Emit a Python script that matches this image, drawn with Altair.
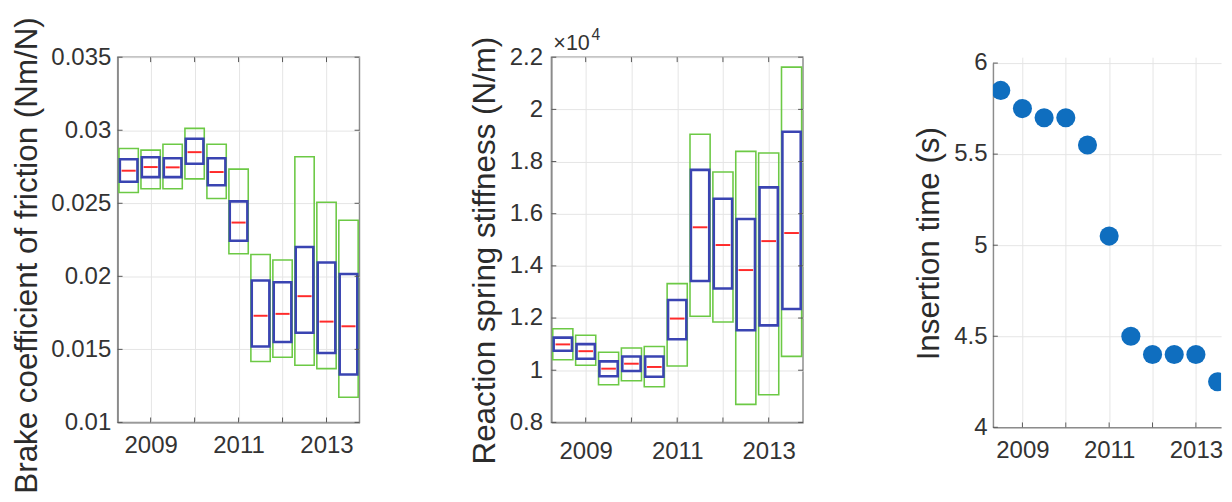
import altair as alt
import pandas as pd

# ---------------- data ----------------
years = [2008.5, 2009.0, 2009.5, 2010.0, 2010.5, 2011.0, 2011.5, 2012.0, 2012.5, 2013.0, 2013.5]

# Brake coefficient of friction (Nm/N)
fr_outer_hi = [0.02875, 0.02864, 0.02904, 0.03013, 0.02904, 0.02734, 0.02150, 0.02112, 0.02819, 0.02507, 0.02384]
fr_outer_lo = [0.02574, 0.02600, 0.02600, 0.02667, 0.02533, 0.02154, 0.01417, 0.01446, 0.01391, 0.01368, 0.01172]
fr_inner_hi = [0.02801, 0.02815, 0.02808, 0.02942, 0.02808, 0.02513, 0.01971, 0.01960, 0.02201, 0.02094, 0.02016]
fr_inner_lo = [0.02647, 0.02679, 0.02679, 0.02770, 0.02623, 0.02243, 0.01520, 0.01551, 0.01614, 0.01475, 0.01328]
fr_median = [0.02723, 0.02748, 0.02746, 0.02850, 0.02714, 0.02368, 0.01730, 0.01743, 0.01864, 0.01690, 0.01658]

# Reaction spring stiffness (N/m)
st_outer_hi = [11590, 11340, 10690, 10850, 10910, 13320, 19050, 17600, 18390, 18330, 21620]
st_outer_lo = [10400, 10190, 9440, 9600, 9370, 10160, 12070, 11850, 8690, 9060, 10530]
st_inner_hi = [11250, 11000, 10340, 10530, 10530, 12690, 17680, 16570, 15800, 17010, 19140]
st_inner_lo = [10750, 10440, 9770, 9970, 9750, 11190, 13420, 13130, 11530, 11720, 12350]
st_median = [10990, 10730, 10060, 10250, 10125, 11980, 15480, 14800, 13840, 14950, 15260]

# Insertion time (s)
insertion = [5.85, 5.75, 5.70, 5.70, 5.55, 5.05, 4.50, 4.40, 4.40, 4.40, 4.25]

year_ticks = [2009, 2010, 2011, 2012, 2013]
fr_ticks = [0.01, 0.015, 0.02, 0.025, 0.03, 0.035]
st_ticks = [8000, 10000, 12000, 14000, 16000, 18000, 20000, 22000]
ins_ticks = [4, 4.5, 5, 5.5, 6]

# ---------------- styling ----------------
FONT = "Liberation Sans"
GREEN = "#6cc945"
BLUE = "#3a44b2"
RED = "#ff2a2a"
DOT = "#0f6ebf"
TICK = "#555555"
TITLE_SIZE = 32
LABEL_SIZE = 24.5
TL = 5  # inward tick length


def x_axis(pad):
    return alt.Axis(values=year_ticks, title=None, grid=True, ticks=False, tickSize=0,
                    labelPadding=pad,
                    labelExpr="datum.value % 2 == 1 ? format(datum.value, 'd') : ''")


def inward_ticks(xs, xax, ys, yax, yvals, w, h, y_top, box):
    """MATLAB-style ticks pointing into the plot area."""
    ydf = pd.DataFrame({"v": yvals})
    xdf = pd.DataFrame({"v": year_ticks})
    layers = [
        alt.Chart(ydf).mark_rule(color=TICK, strokeWidth=1).encode(
            y=alt.Y("v:Q", scale=ys, axis=yax), x=alt.value(0), x2=alt.value(TL)),
        alt.Chart(xdf).mark_rule(color=TICK, strokeWidth=1).encode(
            x=alt.X("v:Q", scale=xs, axis=xax), y=alt.value(h), y2=alt.value(h - TL)),
    ]
    if box:
        layers += [
            alt.Chart(ydf).mark_rule(color=TICK, strokeWidth=1).encode(
                y=alt.Y("v:Q", scale=ys, axis=yax), x=alt.value(w), x2=alt.value(w - TL)),
            alt.Chart(xdf).mark_rule(color=TICK, strokeWidth=1).encode(
                x=alt.X("v:Q", scale=xs, axis=xax), y=alt.value(y_top), y2=alt.value(y_top + TL)),
        ]
    return layers


def box_panel(olo, ohi, ilo, ihi, med, ydom, yvals, ytitle, label_expr,
              lpad, tpad, title_y, xpad, w, h):
    df = pd.DataFrame({"year": years, "olo": olo, "ohi": ohi,
                       "ilo": ilo, "ihi": ihi, "med": med})
    xs = alt.Scale(domain=[2008.25, 2013.75], nice=False, zero=False)
    ys = alt.Scale(domain=ydom, nice=False, zero=False)
    xax = x_axis(xpad)
    yax = alt.Axis(values=yvals, title=ytitle, labelExpr=label_expr, ticks=False, tickSize=0,
                   labelPadding=lpad, titlePadding=tpad, titleY=title_y)
    base = alt.Chart(df)
    outer = base.transform_calculate(
        xa="datum.year - 0.22", xb="datum.year + 0.22"
    ).mark_rect(fillOpacity=0, stroke=GREEN, strokeWidth=1.6).encode(
        x=alt.X("xa:Q", scale=xs, axis=xax), x2="xb:Q",
        y=alt.Y("olo:Q", scale=ys, axis=yax), y2="ohi:Q")
    inner = base.transform_calculate(
        xa="datum.year - 0.20", xb="datum.year + 0.20"
    ).mark_rect(fillOpacity=0, stroke=BLUE, strokeWidth=2.6).encode(
        x=alt.X("xa:Q", scale=xs, axis=xax), x2="xb:Q",
        y=alt.Y("ilo:Q", scale=ys, axis=yax), y2="ihi:Q")
    median = base.transform_calculate(
        xa="datum.year - 0.16", xb="datum.year + 0.16"
    ).mark_rule(color=RED, strokeWidth=2).encode(
        x=alt.X("xa:Q", scale=xs, axis=xax), x2="xb:Q",
        y=alt.Y("med:Q", scale=ys, axis=yax))
    ticks = inward_ticks(xs, xax, ys, yax, yvals, w, h, 0, True)
    return [outer, inner, median] + ticks


# Panel 1
l1 = box_panel(fr_outer_lo, fr_outer_hi, fr_inner_lo, fr_inner_hi, fr_median,
               [0.01, 0.035], fr_ticks, "Brake coefficient of friction (Nm/N)",
               "format(datum.value, '~g')", 7, 8, 202, 12, 247, 373)
p1 = alt.layer(*l1).properties(width=247, height=373)

# Panel 2
l2 = box_panel(st_outer_lo, st_outer_hi, st_inner_lo, st_inner_hi, st_median,
               [8000, 22000], st_ticks, "Reaction spring stiffness (N/m)",
               "format(datum.value / 10000, '~g')", 9, 8, 197, 18, 257, 373)
exp_df = pd.DataFrame({"base": ["\u00d710"], "exp": ["4"]})
exp_base = alt.Chart(exp_df).mark_text(font=FONT, fontSize=22, color="#333333",
                                       align="left", baseline="alphabetic").encode(
    text="base:N", x=alt.value(2), y=alt.value(-7))
exp_sup = alt.Chart(exp_df).mark_text(font=FONT, fontSize=16, color="#333333",
                                      align="left", baseline="alphabetic").encode(
    text="exp:N", x=alt.value(41), y=alt.value(-18))
p2 = alt.layer(*l2, exp_base, exp_sup).properties(width=257, height=373)

# Panel 3
df3 = pd.DataFrame({"year": years, "t": insertion})
xs3 = alt.Scale(domain=[2008.32, 2013.58], nice=False, zero=False)
ys3 = alt.Scale(domain=[4, 6], range=[378, 6], nice=False, zero=False)
xax3 = x_axis(12)
yax3 = alt.Axis(values=ins_ticks, title="Insertion time (s)", ticks=False, tickSize=0,
                labelPadding=6, titlePadding=9, titleY=190,
                labelExpr="format(datum.value, '~g')")
dots = alt.Chart(df3).mark_circle(size=380, color=DOT, opacity=1, clip=True).encode(
    x=alt.X("year:Q", scale=xs3, axis=xax3),
    y=alt.Y("t:Q", scale=ys3, axis=yax3),
)
p3 = alt.layer(*inward_ticks(xs3, xax3, ys3, yax3, ins_ticks, 233, 378, 6, False), dots).properties(
    width=233, height=378, view=alt.ViewBackground(stroke="transparent"))

chart = alt.hconcat(p1, p2, p3, spacing=109).properties(
    padding={"left": 1, "top": 2, "right": 0, "bottom": 0},
    background="white",
).configure_axis(
    labelFont=FONT, labelFontSize=LABEL_SIZE, labelColor="#333333",
    titleFont=FONT, titleFontSize=TITLE_SIZE, titleFontWeight="normal", titleColor="#2b2b2b",
    domainColor="#8c8c8c", domainWidth=1.5, gridColor="#e4e4e4", gridWidth=1,
).configure_view(stroke="#8c8c8c", strokeWidth=1.5)

chart.save("out.html", embed_options={"renderer": "svg", "actions": False})
